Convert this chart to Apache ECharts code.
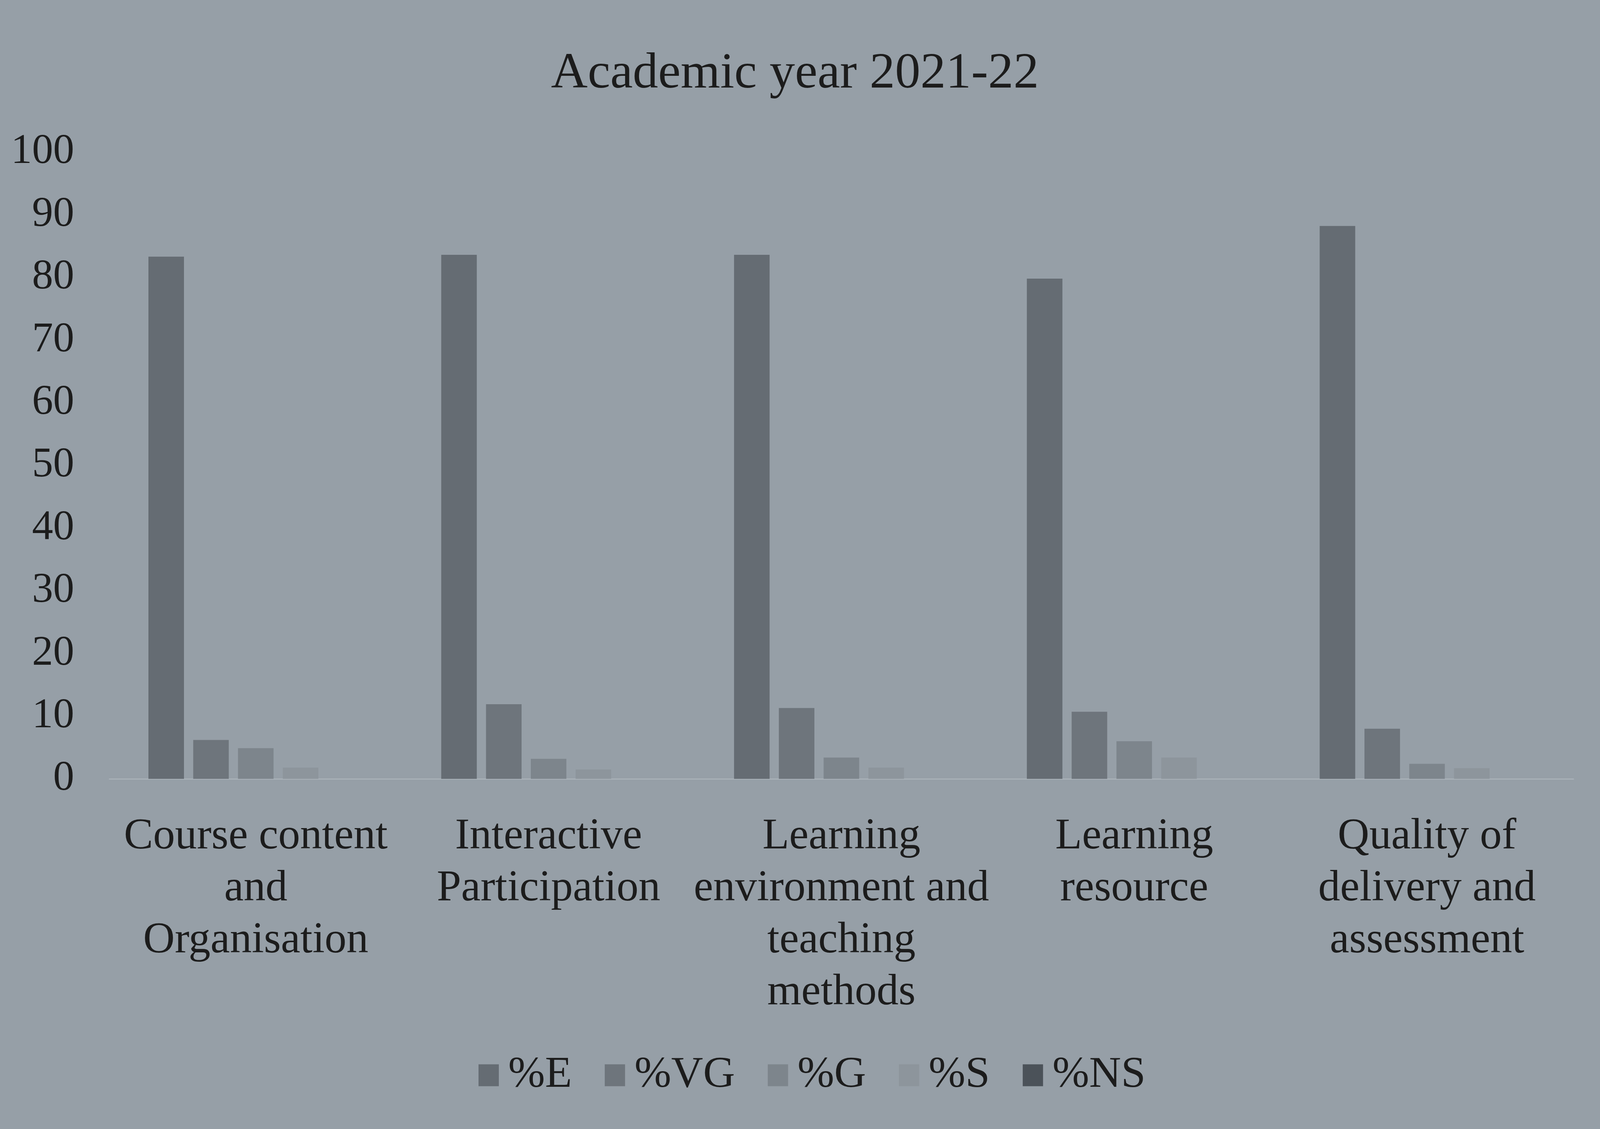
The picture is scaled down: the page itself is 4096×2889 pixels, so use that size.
<!DOCTYPE html>
<html>
<head>
<meta charset="utf-8">
<script src="https://cdn.jsdelivr.net/npm/echarts@6/dist/echarts.min.js"></script>
<style>
html,body{margin:0;padding:0;background:#969fa7;}
#c{width:4096px;height:2889px;}
</style>
</head>
<body>
<div id="c"></div>
<script>
const categories = ["Course content\nand\nOrganisation", "Interactive\nParticipation", "Learning\nenvironment and\nteaching\nmethods", "Learning\nresource", "Quality of\ndelivery and\nassessment"];
const seriesNames = ["%E", "%VG", "%G", "%S", "%NS"];
const valE  = [83.3, 83.6, 83.6, 79.8, 88.2];
const valVG = [6.2, 11.9, 11.3, 10.7, 8.0];
const valG  = [4.9, 3.2, 3.4, 6.0, 2.4];
const valS  = [1.8, 1.5, 1.8, 3.4, 1.7];
const valNS = [0, 0, 0, 0, 0];
const yTicks = [0, 10, 20, 30, 40, 50, 60, 70, 80, 90, 100];

const colors = ["#656c73", "#6e757c", "#7d858c", "#8d959c", "#4b5259"];
const font = "'Liberation Serif', 'Times New Roman', serif";
const textColor = "#1c1c1c";

const chart = echarts.init(document.getElementById('c'), null, {renderer: 'canvas'});
const seriesData = [valE, valVG, valG, valS, valNS];
chart.setOption({
  backgroundColor: "#969fa7",
  animation: false,
  color: colors,
  title: {
    text: "Academic year 2021-22",
    left: 2030, top: 120, textAlign: 'center',
    textStyle: {fontFamily: font, fontSize: 130, fontWeight: 'normal', color: textColor}
  },
  legend: {
    data: seriesNames,
    left: 1220, top: 2690,
    itemWidth: 52, itemHeight: 56, itemGap: 84,
    icon: 'rect',
    textStyle: {fontFamily: font, fontSize: 113, color: textColor, padding: [0,0,0,19]}
  },
  grid: {left: 280, right: 68, top: 389, bottom: 896, containLabel: false},
  xAxis: {
    type: 'category',
    data: categories,
    axisLine: {show: true, lineStyle: {color: '#a9b1b8', width: 3}},
    axisTick: {show: false},
    axisLabel: {fontFamily: font, fontSize: 112, color: textColor, lineHeight: 133, margin: 82, interval: 0}
  },
  yAxis: {
    type: 'value', min: 0, max: 100, interval: 10,
    axisLine: {show: false}, axisTick: {show: false},
    splitLine: {show: false},
    axisLabel: {fontFamily: font, fontSize: 108, color: textColor, margin: 90,
      formatter: v => yTicks.includes(v) ? String(v) : ''}
  },
  series: seriesNames.map((n, i) => ({
    name: n, type: 'bar', data: seriesData[i],
    barWidth: 91, barGap: '26%'
  }))
});
</script>
</body>
</html>
